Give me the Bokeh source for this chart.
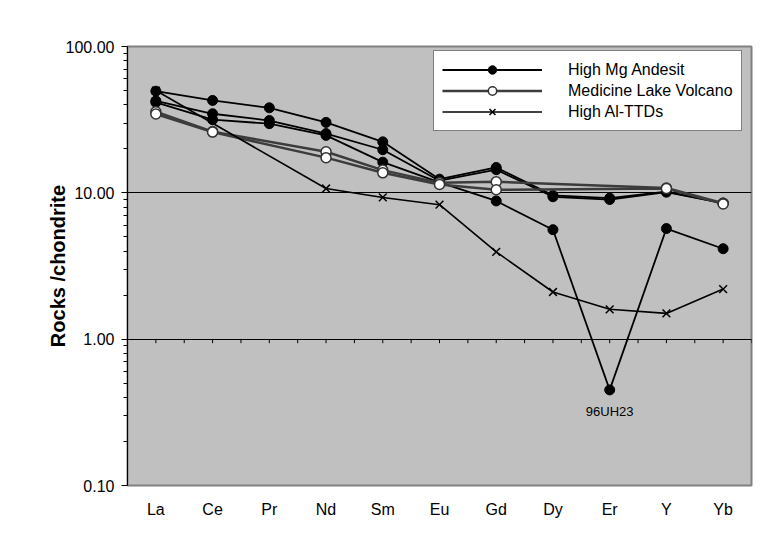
import math
from bokeh.plotting import figure
from bokeh.models import (Range1d, FixedTicker, PrintfTickFormatter,
                          Legend, LegendItem, ColumnDataSource)
from bokeh.core.properties import value
from bokeh.embed import file_html
from bokeh.resources import INLINE

# ---------------- data ----------------
elements = ["La", "Ce", "Pr", "Nd", "Sm", "Eu", "Gd", "Dy", "Er", "Y", "Yb"]

# High Mg Andesite samples
hma_a = [49.5, 42.8, 38.1, 30.3, 22.3, 12.4, 14.9, 9.6, 9.2, 10.2, 8.5]
hma_b = [42.5, 34.7, 31.2, 25.4, 19.7, 12.1, 14.4, 9.4, 9.0, 10.1, 8.5]
hma_96uh23 = [41.5, 31.6, 29.7, 24.7, 16.2, 11.8, 8.8, 5.6, 0.45, 5.7, 4.15]

# Medicine Lake Volcano samples (None = not analysed)
mlv_1 = [35.8, 26.2, None, 19.1, 14.3, 11.7, 11.9, None, None, 10.8, 8.5]
mlv_2 = [34.6, 26.0, None, 17.4, 13.7, 11.4, 10.5, None, None, 10.7, 8.4]

# High Al-TTDs
ttd = [50.0, None, None, 10.7, 9.3, 8.3, 3.95, 2.1, 1.6, 1.5, 2.2]

label_sample = "96UH23"
label_element = "Er"

y_major = [0.1, 1, 10, 100]
y_grid = [1, 10]
x_axis_crosses = 1

FONT = "Liberation Sans"

# ---------------- figure ----------------
n = len(elements)
centers = [i + 0.5 for i in range(n)]

p = figure(width=771, height=532,
           x_range=Range1d(0, n), y_range=Range1d(y_major[0], y_major[-1]),
           y_axis_type="log", output_backend="svg", toolbar_location=None,
           min_border_left=127, min_border_right=20,
           min_border_top=46, min_border_bottom=47)

p.background_fill_color = "#C0C0C0"
p.border_fill_color = "white"
p.outline_line_color = "#808080"
p.outline_line_width = 2

# grid
p.xgrid.visible = False
p.ygrid.ticker = FixedTicker(ticks=y_grid)
p.ygrid.grid_line_color = "black"
p.ygrid.grid_line_width = 1

# y axis
yax = p.yaxis[0]
minor = [m * 10.0 ** e for e in range(-1, 2) for m in range(2, 10)]
yax.ticker = FixedTicker(ticks=y_major, minor_ticks=minor)
yax.formatter = PrintfTickFormatter(format="%.2f")
yax.major_label_text_font = FONT
yax.major_label_text_font_size = "16px"
yax.major_label_text_color = "black"
yax.major_tick_out = 6
yax.major_tick_in = 0
yax.minor_tick_out = 4
yax.minor_tick_in = 0
yax.major_label_standoff = 7
yax.axis_line_color = "black"
yax.axis_label = "Rocks /chondrite"
yax.axis_label_text_font = FONT
yax.axis_label_text_font_style = "bold"
yax.axis_label_text_font_size = "20px"
yax.axis_label_text_color = "black"
yax.axis_label_standoff = -6

# x axis (labels only, at bottom)
xax = p.xaxis[0]
xax.ticker = FixedTicker(ticks=centers)
xax.major_label_overrides = {c: e for c, e in zip(centers, elements)}
xax.major_label_text_font = FONT
xax.major_label_text_font_size = "16px"
xax.major_label_text_color = "black"
xax.axis_line_color = None
xax.major_tick_line_color = None
xax.minor_tick_line_color = None
xax.major_tick_out = 0
xax.major_label_standoff = 15

# category-axis ticks where the axis crosses y = 1 (half-category steps)
half_ticks = [k * 0.5 for k in range(2 * n + 1)]
p.ray(x=half_ticks, y=[x_axis_crosses] * len(half_ticks), length=4,
      length_units="screen", angle=270, angle_units="deg",
      line_color="black", line_width=1)


def series(vals):
    xs = [c for c, v in zip(centers, vals) if v is not None]
    ys = [v for v in vals if v is not None]
    return ColumnDataSource(dict(x=xs, y=ys))


legend_items = []

# High Mg Andesite
hma_rs = []
for vals in (hma_a, hma_b, hma_96uh23):
    src = series(vals)
    lr = p.line("x", "y", source=src, line_color="black", line_width=1.8)
    sr = p.scatter("x", "y", source=src, marker="circle", size=10,
                   fill_color="black", line_color="black", line_width=1)
    hma_rs.append((lr, sr))
legend_items.append(LegendItem(label="High Mg Andesit", renderers=list(hma_rs[0])))

# Medicine Lake Volcano
mlv_rs = []
for vals in (mlv_1, mlv_2):
    src = series(vals)
    lr = p.line("x", "y", source=src, line_color="#3c3c3c", line_width=2.5)
    sr = p.scatter("x", "y", source=src, marker="circle", size=10,
                   fill_color="white", line_color="#333333", line_width=1.5)
    mlv_rs.append((lr, sr))
legend_items.append(LegendItem(label="Medicine Lake Volcano", renderers=list(mlv_rs[0])))

# High Al-TTDs
src = series(ttd)
lr = p.line("x", "y", source=src, line_color="black", line_width=1.6)
sr = p.scatter("x", "y", source=src, marker="x", size=11,
               line_color="black", line_width=1.5)
legend_items.append(LegendItem(label="High Al-TTDs", renderers=[lr, sr]))

# sample label
ei = elements.index(label_element)
p.text(x=[centers[ei]], y=[hma_96uh23[ei]], text=[label_sample],
       text_align="center", text_baseline="middle", y_offset=22,
       text_font=value(FONT), text_font_size="13px", text_color="black")

legend = Legend(items=legend_items, location=(306, 354), margin=0,
                padding=8, spacing=0, glyph_width=100, glyph_height=21,
                label_height=21, label_standoff=26,
                label_text_font=FONT, label_text_font_size="16px",
                label_text_color="black",
                border_line_color="black", border_line_width=1.5,
                background_fill_color="white", background_fill_alpha=1.0)
p.add_layout(legend)

open("out.html", "w").write(file_html(p, INLINE))
